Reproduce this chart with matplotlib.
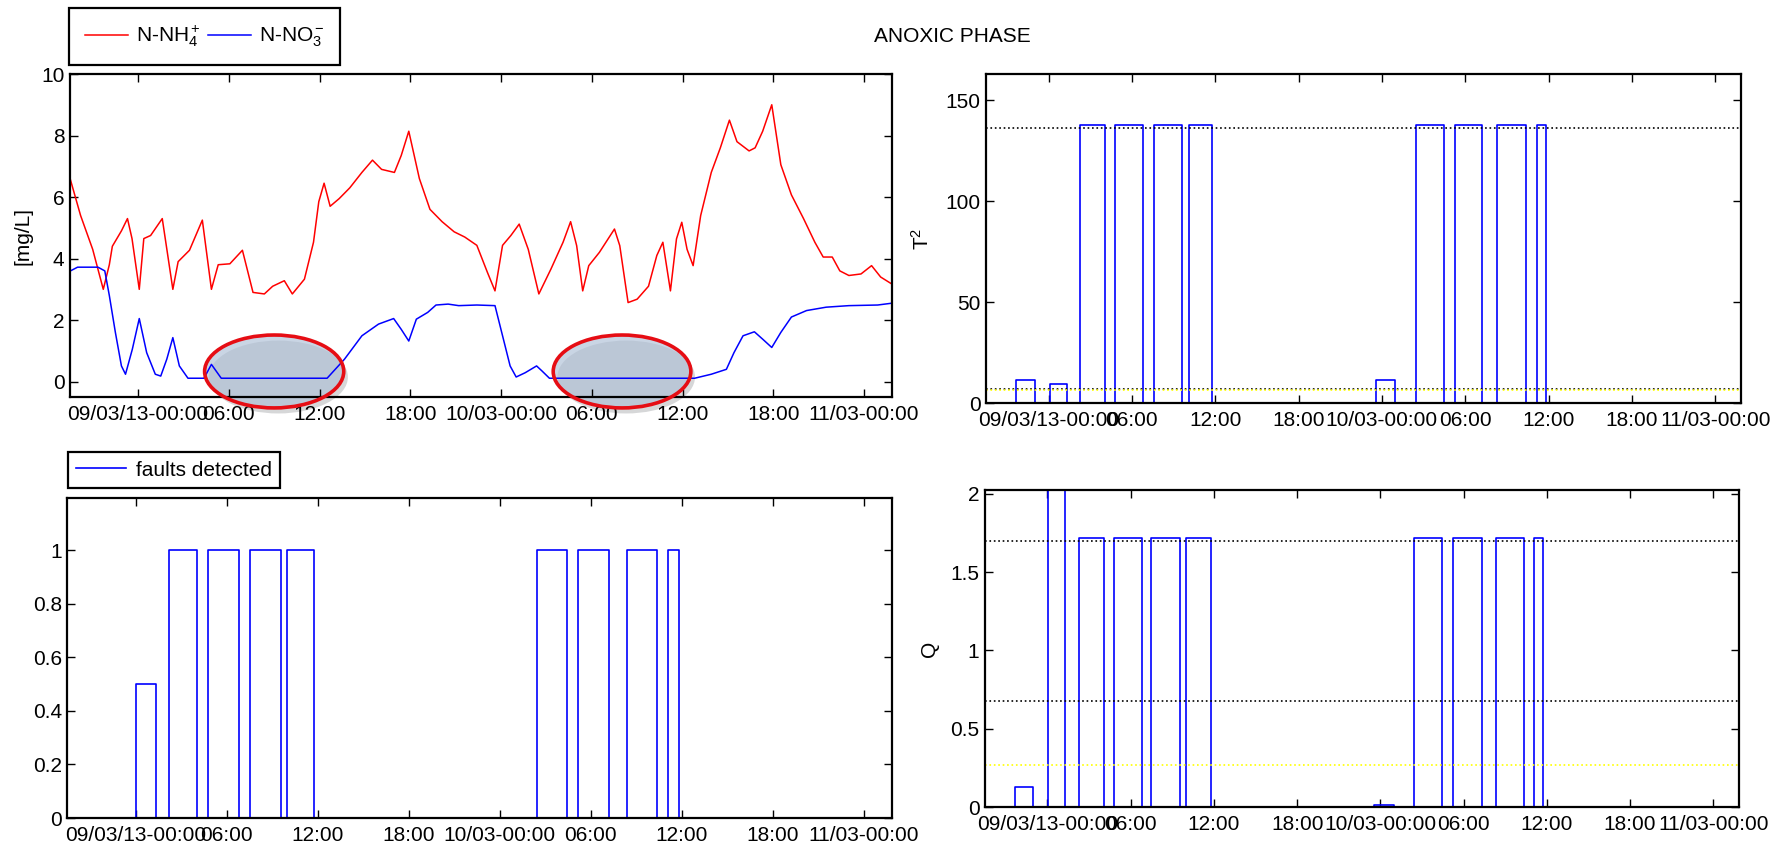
import numpy as np
import matplotlib
matplotlib.use('Agg')
import matplotlib.pyplot as plt
from matplotlib.patches import Ellipse
import matplotlib.patheffects as pe

plt.rcParams['font.family'] = ['Liberation Sans', 'DejaVu Sans']
plt.rcParams['mathtext.fontset'] = 'custom'
plt.rcParams['mathtext.rm'] = 'Liberation Sans'
plt.rcParams['mathtext.it'] = 'Liberation Sans:italic'
plt.rcParams['font.size'] = 15

# time axis: hours from 09/03/13 00:00
x_min, x_max = -4.5, 49.85
tick_hours = [0, 6, 12, 18, 24, 30, 36, 42, 48]
tick_labels = ['09/03/13-00:00', '06:00', '12:00', '18:00', '10/03-00:00',
               '06:00', '12:00', '18:00', '11/03-00:00']

# ammonium N-NH4+ [mg/L]
nh4_t = [-4.47, -3.8, -3.0, -2.3, -1.9, -1.7, -1.1, -0.7, -0.4, 0.08, 0.38, 0.83, 1.6, 2.3,
         2.65, 3.4, 4.25, 4.85, 5.3, 6.07, 6.9, 7.6, 8.35, 8.9, 9.67, 10.2, 11.0, 11.6, 11.95,
         12.3, 12.7, 13.3, 14.0, 14.8, 15.5, 16.1, 16.95, 17.4, 17.9, 18.6, 19.3, 20.1, 20.9,
         21.6, 22.4, 23.1, 23.6, 24.1, 24.65, 25.2, 25.8, 26.5, 27.3, 28.1, 28.6, 29.0, 29.4,
         29.8, 30.5, 31.5, 31.85, 32.4, 33.0, 33.75, 34.3, 34.7, 35.2, 35.6, 35.95, 36.3, 36.7,
         37.2, 37.9, 38.5, 39.1, 39.6, 40.4, 40.8, 41.3, 41.9, 42.5, 43.2, 44.0, 44.75, 45.3,
         45.9, 46.4, 47.0, 47.8, 48.5, 49.1, 49.85]
nh4_v = [6.56, 5.4, 4.3, 3.0, 3.8, 4.4, 4.9, 5.3, 4.65, 3.0, 4.65, 4.75, 5.3, 3.0,
         3.9, 4.27, 5.25, 3.0, 3.8, 3.83, 4.27, 2.9, 2.85, 3.1, 3.28, 2.85, 3.33, 4.53, 5.85,
         6.45, 5.7, 5.95, 6.3, 6.8, 7.2, 6.9, 6.8, 7.35, 8.14, 6.6, 5.6, 5.2, 4.87,
         4.7, 4.43, 3.55, 2.95, 4.43, 4.75, 5.12, 4.3, 2.85, 3.66, 4.53, 5.2, 4.42, 2.95,
         3.77, 4.2, 4.96, 4.42, 2.57, 2.68, 3.1, 4.1, 4.53, 2.95, 4.64, 5.18, 4.3, 3.77,
         5.4, 6.8, 7.6, 8.5, 7.8, 7.5, 7.6, 8.14, 9.0, 7.05, 6.07, 5.3, 4.53, 4.05,
         4.05, 3.6, 3.45, 3.5, 3.77, 3.4, 3.17]

# nitrate N-NO3- [mg/L]
no3_t = [-4.47, -4.0, -3.4, -2.65, -2.2, -1.9, -1.5, -1.1, -0.83, -0.38, 0.08, 0.57, 1.14,
         1.5, 1.9, 2.3, 2.73, 3.3, 4.36, 4.85, 5.5, 12.5, 13.65, 14.8, 15.9, 16.9, 17.4, 17.9,
         18.4, 19.15, 19.7, 20.5, 21.2, 22.4, 23.6, 24.1, 24.6, 25.0, 25.6, 26.35, 26.7, 27.2,
         36.8, 37.9, 38.9, 39.4, 40.0, 40.75, 41.3, 41.9, 42.5, 43.2, 44.2, 45.5, 47.0, 48.9,
         49.85]
no3_v = [3.6, 3.72, 3.72, 3.72, 3.6, 2.8, 1.6, 0.51, 0.24, 1.05, 2.05, 0.94, 0.24,
         0.18, 0.73, 1.43, 0.51, 0.11, 0.11, 0.56, 0.11, 0.11, 0.73, 1.49, 1.87, 2.05, 1.7, 1.32,
         2.03, 2.25, 2.49, 2.52, 2.47, 2.49, 2.47, 1.49, 0.51, 0.15, 0.29, 0.51, 0.35, 0.11,
         0.11, 0.24, 0.4, 0.94, 1.49, 1.62, 1.38, 1.11, 1.6, 2.1, 2.31, 2.42, 2.47, 2.49,
         2.55]

# highlighted periods (centre hour, width in hours)
mark_centre = [9.0, 32.0]
mark_width = [9.2, 9.1]

# T2 statistic blocks
t2_start = [-2.31, 0.08, 2.27, 4.82, 7.57, 10.08, 23.55, 26.43, 29.26, 32.29, 35.13]
t2_end = [-0.97, 1.30, 4.09, 6.80, 9.59, 11.78, 24.97, 28.49, 31.24, 34.36, 35.82]
t2_val = [11.3, 9.3, 137.9, 137.9, 137.9, 137.9, 11.3, 137.9, 137.9, 137.9, 137.9]
t2_limits = [136.4, 7.1]
t2_warn = 6.5

# Q statistic blocks
q_start = [-2.31, 0.04, 2.27, 4.82, 7.50, 9.97, 23.55, 26.43, 29.23, 32.35, 35.10]
q_end = [-1.01, 1.26, 4.05, 6.81, 9.57, 11.76, 24.97, 28.46, 31.29, 34.33, 35.75]
q_val = [0.128, 2.6, 1.72, 1.72, 1.72, 1.72, 0.012, 1.72, 1.72, 1.72, 1.72]
q_limits = [1.70, 0.678]
q_warn = 0.271

# detected faults
f_start = [0.0, 2.2, 4.77, 7.54, 9.96, 26.44, 29.17, 32.35, 35.1]
f_end = [1.36, 4.05, 6.82, 9.55, 11.78, 28.45, 31.2, 34.36, 35.83]
f_val = [0.5, 1, 1, 1, 1, 1, 1, 1, 1]


def block_steps(starts, ends, vals):
    xs, ys = [x_min], [0.0]
    for s, e, v in zip(starts, ends, vals):
        xs += [s, s, e, e]
        ys += [0.0, v, v, 0.0]
    xs.append(x_max)
    ys.append(0.0)
    return np.array(xs), np.array(ys)


W, H = 1781, 847
fig = plt.figure(figsize=(W / 100, H / 100), dpi=100)


def px_axes(left, top, right, bottom):
    return fig.add_axes([left / W, 1 - bottom / H, (right - left) / W, (bottom - top) / H])


def style(ax):
    ax.set_xlim(x_min, x_max)
    ax.set_xticks(tick_hours)
    ax.set_xticklabels(tick_labels)
    ax.tick_params(direction='in', top=True, right=True, length=6, width=1,
                   labelsize=15)
    ax.tick_params(axis='x', pad=6)
    ax.tick_params(axis='y', pad=4)
    for sp in ax.spines.values():
        sp.set_linewidth(1.6)


ax1 = px_axes(70, 74, 892, 397)
ax2 = px_axes(986, 74, 1741, 403)
ax3 = px_axes(67.5, 498, 892, 818)
ax4 = px_axes(985, 490, 1739, 807)

# nutrients
ax1.plot(nh4_t, nh4_v, color='red', lw=1.1, label=r'N-NH$_4^+$')
ax1.plot(no3_t, no3_v, color='blue', lw=1.1, label=r'N-NO$_3^-$')
for c, w in zip(mark_centre, mark_width):
    fill = Ellipse((c, 0.33), w, 2.37, facecolor=(0.68, 0.75, 0.84, 0.65),
                   edgecolor='none', zorder=1.5, clip_on=False)
    fill.set_path_effects([pe.SimplePatchShadow(offset=(3, -4), alpha=0.2), pe.Normal()])
    ax1.add_patch(fill)
    ax1.add_patch(Ellipse((c, 0.33), w, 2.37, facecolor='none', edgecolor=(0.9, 0.05, 0.08),
                          lw=2.6, zorder=3, clip_on=False))
style(ax1)
ax1.set_ylim(-0.5, 10)
ax1.set_yticks([0, 2, 4, 6, 8, 10])
ax1.set_ylabel('[mg/L]', fontsize=15)
ax1.yaxis.set_label_coords((33 - 70) / 822, 0.5)
leg1 = ax1.legend(loc='lower left', bbox_to_anchor=(69 / W, 1 - 65 / H),
                  bbox_transform=fig.transFigure, borderaxespad=0, ncol=2,
                  handlelength=2.1, handletextpad=0.35, columnspacing=0.35,
                  fancybox=False, framealpha=1, edgecolor='black', fontsize=15,
                  borderpad=0.75)
leg1.get_frame().set_linewidth(1.6)

# T2
x, y = block_steps(t2_start, t2_end, t2_val)
ax2.plot(x, y, color='blue', lw=1.2)
for lim in t2_limits:
    ax2.axhline(lim, color='black', ls=':', lw=1.2)
ax2.axhline(t2_warn, color='yellow', ls=':', lw=1.2)
style(ax2)
ax2.set_ylim(0, 163)
ax2.set_yticks([0, 50, 100, 150])
ax2.set_ylabel(r'T$^2$', fontsize=15)
ax2.yaxis.set_label_coords((933 - 986) / 755, 0.5)

# faults detected
x, y = block_steps(f_start, f_end, f_val)
ax3.plot(x, y, color='blue', lw=1.2, label='faults detected')
style(ax3)
ax3.set_ylim(0, 1.195)
ax3.set_yticks([0, 0.2, 0.4, 0.6, 0.8, 1])
ax3.set_yticklabels(['0', '0.2', '0.4', '0.6', '0.8', '1'])
leg3 = ax3.legend(loc='lower left', bbox_to_anchor=(68 / W, 1 - 488 / H),
                  bbox_transform=fig.transFigure, borderaxespad=0,
                  handlelength=2.4, handletextpad=0.45, fancybox=False, framealpha=1,
                  edgecolor='black', fontsize=15, borderpad=0.4)
leg3.get_frame().set_linewidth(1.6)

# Q
x, y = block_steps(q_start, q_end, q_val)
ax4.plot(x, y, color='blue', lw=1.2)
for lim in q_limits:
    ax4.axhline(lim, color='black', ls=':', lw=1.2)
ax4.axhline(q_warn, color='yellow', ls=':', lw=1.2)
style(ax4)
ax4.set_ylim(0, 2.025)
ax4.set_yticks([0, 0.5, 1, 1.5, 2])
ax4.set_yticklabels(['0', '0.5', '1', '1.5', '2'])
ax4.set_ylabel('Q', fontsize=15)
ax4.yaxis.set_label_coords((939 - 985) / 754, 0.5)

fig.text(952 / W, 1 - 36 / H, 'ANOXIC PHASE', ha='center', va='center', fontsize=15)

fig.savefig('out.png', dpi=100)
